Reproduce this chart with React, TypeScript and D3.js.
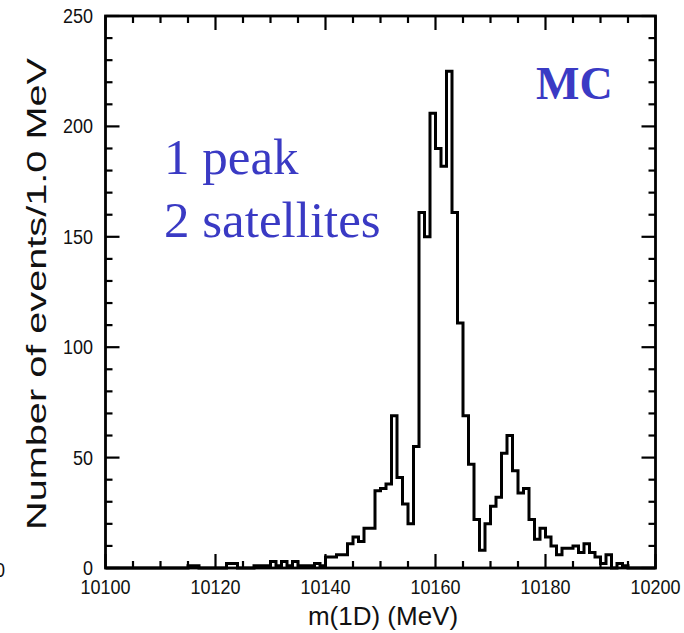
import React from "react";
import * as d3 from "d3";

// Histogram bins: lower edge (MeV), 1 MeV wide
const binStart = 10100;
const counts: number[] = [
  // 10100-10109
  0, 0, 0, 0, 0, 0, 0, 0, 0, 0,
  // 10110-10119
  0, 0, 0, 0, 0, 1, 1, 0, 0, 0,
  // 10120-10129
  0, 0, 2, 2, 0, 0, 0, 1, 1, 1,
  // 10130-10139
  3, 1, 3, 1, 3, 1, 1, 1, 2, 1,
  // 10140-10149
  5, 5, 6, 6, 11, 14, 12, 18, 18, 35,
  // 10150-10159
  36, 38, 69, 41, 29, 20, 55, 161, 150, 206,
  // 10160-10169
  190, 182, 225, 161, 111, 69, 47, 22, 8, 20,
  // 10170-10179
  28, 32, 52, 60, 44, 34, 36, 22, 13, 18,
  // 10180-10189
  14, 10, 6, 9, 9, 10, 7, 11, 7, 5,
  // 10190-10199
  2, 6, 0, 2, 1, 0, 0, 0, 0, 0,
];

const xTicks = [10100, 10120, 10140, 10160, 10180, 10200];
const yTicks = [0, 50, 100, 150, 200, 250];
const xLabel = "m(1D) (MeV)";
const yLabel = "Number of events/1.0 MeV";
const annotationLines = ["1 peak", "2 satellites"];
const tagText = "MC";

export default function App() {
  const left = 105.5, right = 655.5, top = 16, bottom = 568;
  const x = d3.scaleLinear().domain([10100, 10200]).range([left, right]);
  const y = d3.scaleLinear().domain([0, 250]).range([bottom, top]);

  const pts: [number, number][] = counts.map((c, i) => [binStart + i, c]);
  pts.push([binStart + counts.length, counts[counts.length - 1]]);
  const line = d3
    .line<[number, number]>()
    .x((d) => x(d[0]))
    .y((d) => y(d[1]))
    .curve(d3.curveStepAfter);

  const xMinor = d3.range(10100, 10201, 5);
  const yMinor = d3.range(0, 251, 10);
  const major = 14, minor = 7;
  const blue = "#3a3ac4";
  const sans = "'Liberation Sans', Arial, Helvetica, sans-serif";
  const serif = "'Liberation Serif', 'Times New Roman', serif";

  return (
    <svg
      width={684}
      height={633}
      style={{ position: "absolute", left: 0, top: 0, background: "#fff" }}
    >
      <rect x={0} y={0} width={684} height={633} fill="#fff" />
      {/* ticks */}
      <g stroke="#000" strokeWidth={2.2}>
        {xMinor.map((v) => {
          const len = (v - 10100) % 20 === 0 ? major : minor;
          return (
            <g key={"xt" + v}>
              <line x1={x(v)} x2={x(v)} y1={bottom} y2={bottom - len} />
              <line x1={x(v)} x2={x(v)} y1={top} y2={top + len} />
            </g>
          );
        })}
        {yMinor.map((v) => {
          const len = v % 50 === 0 ? major : minor;
          return (
            <g key={"yt" + v}>
              <line x1={left} x2={left + len} y1={y(v)} y2={y(v)} />
              <line x1={right} x2={right - len} y1={y(v)} y2={y(v)} />
            </g>
          );
        })}
      </g>
      {/* histogram */}
      <path d={line(pts) || ""} fill="none" stroke="#000" strokeWidth={3} strokeLinejoin="miter" />
      {/* frame */}
      <rect
        x={left}
        y={top}
        width={right - left}
        height={bottom - top}
        fill="none"
        stroke="#000"
        strokeWidth={2.8}
      />
      {/* tick labels */}
      <g fontFamily={sans} fontSize={18} fill="#111">
        {yTicks.map((v) => (
          <text
            key={"yl" + v}
            transform={`translate(93,${y(v) + 7}) scale(1,1.15)`}
            textAnchor="end"
          >
            {v}
          </text>
        ))}
        {xTicks.map((v) => (
          <text
            key={"xl" + v}
            transform={`translate(${x(v)},594) scale(1,1.15)`}
            textAnchor="middle"
          >
            {v}
          </text>
        ))}
        <text transform="translate(-5,577) scale(1,1.15)">0</text>
      </g>
      {/* axis titles */}
      <text
        x={383}
        y={625}
        textAnchor="middle"
        fontFamily={sans}
        fontSize={26}
        fill="#111"
      >
        {xLabel}
      </text>
      <text
        transform="translate(46,294) rotate(-90)"
        textAnchor="middle"
        fontFamily={sans}
        fontSize={27}
        fill="#111"
        textLength={472}
        lengthAdjust="spacingAndGlyphs"
      >
        {yLabel}
      </text>
      {/* annotations */}
      <g fontFamily={serif} fontSize={51} fill={blue}>
        {annotationLines.map((t, i) => (
          <text key={t} x={164} y={174 + i * 63}>
            {t}
          </text>
        ))}
      </g>
      <text x={536} y={99} fontFamily={serif} fontSize={46} fontWeight="bold" fill={blue}>
        {tagText}
      </text>
    </svg>
  );
}
